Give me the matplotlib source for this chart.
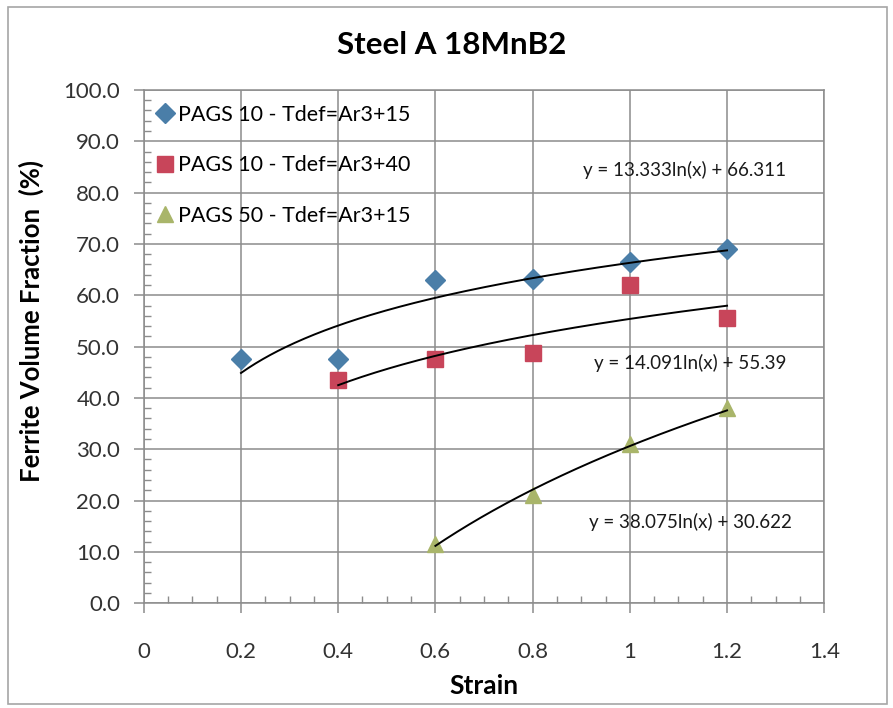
import numpy as np
import matplotlib.pyplot as plt
from matplotlib.patches import Rectangle

plt.rcParams['font.family'] = ['Lato', 'DejaVu Sans']

# data
strain_a = [0.2, 0.4, 0.6, 0.8, 1.0, 1.2]
ferrite_a = [47.5, 47.5, 63.0, 63.2, 66.5, 69.0]

strain_b = [0.4, 0.6, 0.8, 1.0, 1.2]
ferrite_b = [43.5, 47.5, 48.8, 62.0, 55.5]

strain_c = [0.6, 0.8, 1.0, 1.2]
ferrite_c = [11.5, 21.0, 31.0, 38.0]

labels = ['PAGS 10 - Tdef=Ar3+15', 'PAGS 10 - Tdef=Ar3+40', 'PAGS 50 - Tdef=Ar3+15']

# log trendline coefficients (a*ln(x) + b) shown on the chart
fit_a = [13.333, 66.311]
fit_b = [14.091, 55.39]
fit_c = [38.075, 30.622]

fig = plt.figure(figsize=(8.93, 7.08), dpi=100)
ax = fig.add_axes([0.161, 0.148, 0.762, 0.725])

# outer chart border
fig.patches.append(Rectangle((0.009, 0.006), 0.984, 0.984, transform=fig.transFigure,
                             fill=False, edgecolor='#a6a6a6', linewidth=1.2))

series = [
    (strain_a, ferrite_a, fit_a, 'D', '#4a7ea8', 10),
    (strain_b, ferrite_b, fit_b, 's', '#c8455a', 11),
    (strain_c, ferrite_c, fit_c, '^', '#a9b56a', 11),
]

for (xs, ys, fit, mk, col, ms), lab in zip(series, labels):
    ax.plot(xs, ys, linestyle='none', marker=mk, color=col, markersize=ms,
            markeredgecolor=col, label=lab, zorder=3)
    xx = np.linspace(min(xs), max(xs), 200)
    ax.plot(xx, fit[0] * np.log(xx) + fit[1], color='black', lw=1.4, zorder=4)

# trendline equations
eq_style = dict(fontsize=13.5, ha='center', va='center', color='#1a1a1a')
ax.text(1.112, 84.4, 'y = 13.333ln(x) + 66.311', **eq_style)
ax.text(1.124, 46.8, 'y = 14.091ln(x) + 55.39', **eq_style)
ax.text(1.124, 15.8, 'y = 38.075ln(x) + 30.622', **eq_style)

ax.set_xlim(0, 1.4)
ax.set_ylim(0, 100)
ax.set_xticks(np.arange(0, 1.41, 0.2))
ax.set_xticklabels(['0', '0.2', '0.4', '0.6', '0.8', '1', '1.2', '1.4'])
ax.set_yticks(np.arange(0, 101, 10))
ax.set_yticklabels([f'{v:.1f}' for v in np.arange(0, 101, 10)])
ax.set_xticks(np.arange(0, 1.41, 0.05), minor=True)
ax.set_yticks(np.arange(0, 101, 2), minor=True)

ax.grid(True, which='major', color='#8c8c8c', lw=1.1)
ax.set_axisbelow(True)
for sp in ax.spines.values():
    sp.set_color('#8c8c8c')
    sp.set_linewidth(1.1)

ax.tick_params(axis='both', which='major', direction='out', length=7, width=1.1,
               color='#8c8c8c', labelsize=16, labelcolor='#333333')
ax.tick_params(axis='x', which='major', pad=21)
ax.tick_params(axis='y', which='major', pad=10)
ax.tick_params(axis='both', which='minor', direction='in', length=5, width=1,
               color='#8c8c8c')

ax.set_xlabel('Strain', fontsize=19, fontweight='bold', va='center')
ax.xaxis.set_label_coords(0.5, -0.162)
ax.set_ylabel('Ferrite Volume Fraction  (%)', fontsize=18.5, fontweight='bold')
ax.yaxis.set_label_coords(-0.146, 0.55)
fig.text(0.506, 0.936, 'Steel A 18MnB2', fontsize=22.5, fontweight='bold',
         ha='center', va='center')

ax.legend(loc='upper left', frameon=False, fontsize=15.5, handletextpad=0.1,
          labelspacing=1.42, borderaxespad=0.45, handlelength=1.0,
          bbox_to_anchor=(-0.012, 1.007))

fig.savefig('out.png', dpi=100)
